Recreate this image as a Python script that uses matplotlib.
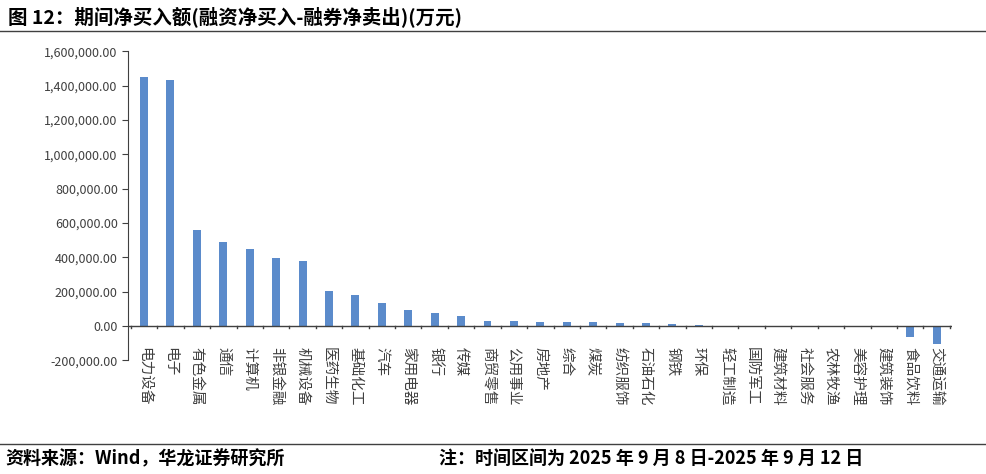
import matplotlib
matplotlib.use("Agg")
import matplotlib.pyplot as plt
from matplotlib.ticker import FuncFormatter, MultipleLocator
from matplotlib.lines import Line2D

plt.rcParams['font.family'] = ['Noto Sans CJK SC', 'DejaVu Sans']

categories = ["电力设备","电子","有色金属","通信","计算机","非银金融","机械设备","医药生物","基础化工","汽车",
              "家用电器","银行","传媒","商贸零售","公用事业","房地产","综合","煤炭","纺织服饰","石油石化",
              "钢铁","环保","轻工制造","国防军工","建筑材料","社会服务","农林牧渔","美容护理","建筑装饰","食品饮料","交通运输"]
values = [1450000,1430000,560000,490000,450000,395000,380000,205000,178000,133000,
          95000,78000,55000,30000,28000,25000,24000,20000,15000,14000,
          10000,5000,2000,1000,500,300,200,-1000,-3000,-65000,-105000]
title = "图 12：期间净买入额(融资净买入-融券净卖出)(万元)"
source = "资料来源：Wind，华龙证券研究所"
note = "注：时间区间为 2025 年 9 月 8 日-2025 年 9 月 12 日"

fig = plt.figure(figsize=(9.86, 4.74), dpi=100)
ax = fig.add_axes([0.130, 0.240, 0.836, 0.652])
x = list(range(len(categories)))
ax.bar(x, values, width=0.3, color='#5B8BCB', zorder=2)
ax.set_ylim(-200000, 1600000)
ax.set_xlim(-0.6, len(categories) - 0.4)
ax.yaxis.set_major_locator(MultipleLocator(200000))
ax.yaxis.set_major_formatter(FuncFormatter(lambda v, p: f"{v:,.2f}"))
ax.tick_params(axis='y', labelsize=9, colors='#404040', length=4, direction='out')
for s in ['top', 'right', 'bottom']:
    ax.spines[s].set_visible(False)
ax.spines['left'].set_color('#404040')
ax.axhline(0, color='#404040', lw=1, zorder=3)
ax.set_xticks([])
for i in range(len(categories) + 1):
    ax.plot([i - 0.5, i - 0.5], [0, -10000], color='#404040', lw=1, clip_on=False)
for i, c in enumerate(categories):
    ax.text(i, -125000, c, rotation=-90, ha='center', va='top', fontsize=10.5, color='#404040')

fig.text(0.008, 0.965, title, fontsize=14, fontweight='bold', ha='left', va='center')
fig.add_artist(Line2D([0, 1], [0.935, 0.935], color='#404040', lw=1, transform=fig.transFigure))
fig.add_artist(Line2D([0, 1], [0.063, 0.063], color='#404040', lw=1, transform=fig.transFigure))
fig.text(0.005, 0.032, source, fontsize=13, fontweight='bold', ha='left', va='center')
fig.text(0.445, 0.032, note, fontsize=13, fontweight='bold', ha='left', va='center')
fig.savefig("out.png", dpi=100)
